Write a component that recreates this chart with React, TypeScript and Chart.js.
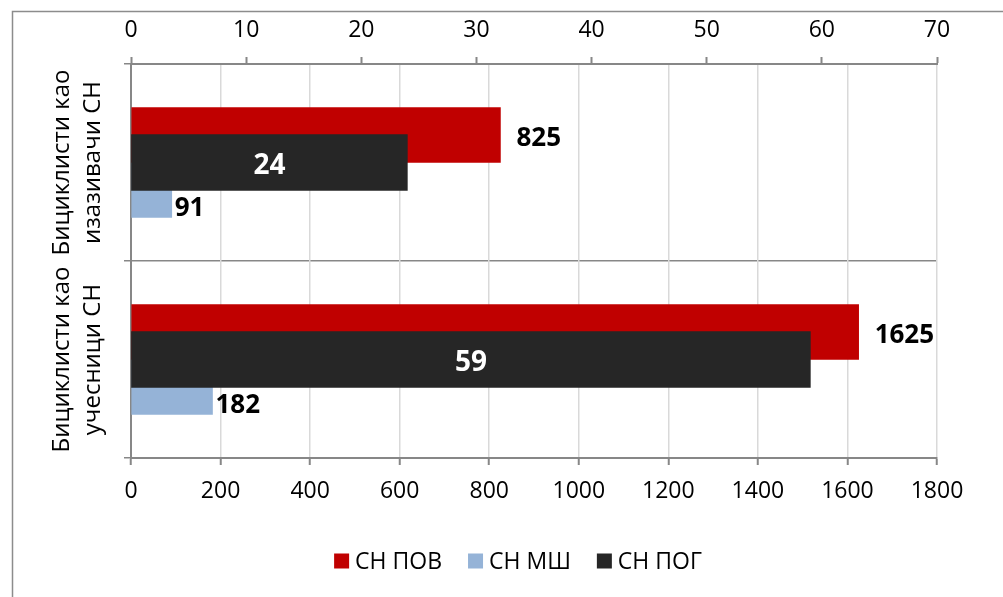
import React, { useEffect, useRef } from "react";
import { Chart, registerables } from "chart.js";

Chart.register(...registerables);

// ---- data ----
const categories: string[][] = [
  ["Бициклисти као", "изазивачи СН"],
  ["Бициклисти као", "учесници СН"],
];
const seriesNames = ["СН ПОВ", "СН МШ", "СН ПОГ"];
const seriesColors = ["#C00000", "#95B3D7", "#262626"];
const povValues = [825, 1625];
const mshValues = [91, 182];
const pogValues = [24, 59];
const bottomAxisRange = [0, 1800, 200];
const topAxisRange = [0, 70, 10];

const FONT = "'Open Sans', 'DejaVu Sans', sans-serif";
const AXIS_GRAY = "#878787";
const GRID_GRAY = "#d9d9d9";

const framePlugin = {
  id: "frame",
  beforeDraw(chart: any) {
    const ctx = chart.ctx;
    ctx.save();
    ctx.fillStyle = "#ffffff";
    ctx.fillRect(0, 0, chart.width, chart.height);
    ctx.strokeStyle = "#8c8c8c";
    ctx.lineWidth = 1.5;
    ctx.strokeRect(12.5, 11.5, chart.width + 40, chart.height + 40);
    ctx.restore();
  },
};

const categoryLabelPlugin = {
  id: "catLabels",
  afterDraw(chart: any) {
    const ctx = chart.ctx;
    const yScale = chart.scales.y;
    (chart.data.labels as string[][]).forEach((lines, i) => {
      const yc = yScale.getPixelForValue(i);
      lines.forEach((line, j) => {
        ctx.save();
        ctx.translate(69 + j * 31, yc);
        ctx.rotate(-Math.PI / 2);
        ctx.textAlign = "center";
        ctx.textBaseline = "alphabetic";
        ctx.font = `24px ${FONT}`;
        ctx.fillStyle = "#000";
        ctx.fillText(line, 0, 0);
        ctx.restore();
      });
    });
  },
};

const dataLabelPlugin = {
  id: "dataLabels",
  afterDatasetsDraw(chart: any) {
    const ctx = chart.ctx;
    chart.data.datasets.forEach((ds: any, di: number) => {
      const meta = chart.getDatasetMeta(di);
      meta.data.forEach((bar: any, i: number) => {
        const v = ds.data[i];
        const { x, y, base } = bar.getProps(["x", "y", "base"], true);
        ctx.save();
        ctx.textBaseline = "alphabetic";
        if (di === 2) {
          const size = 28;
          ctx.font = `bold ${size}px ${FONT}`;
          ctx.fillStyle = "#ffffff";
          ctx.textAlign = "center";
          ctx.fillText(String(v), (x + base) / 2, y + 2 + 0.357 * size);
        } else if (di === 0) {
          const size = 26;
          ctx.font = `bold ${size}px ${FONT}`;
          ctx.fillStyle = "#000";
          ctx.textAlign = "left";
          ctx.fillText(String(v), x + 16, y + 1.5 + 0.357 * size);
        } else {
          const size = 26;
          ctx.font = `bold ${size}px ${FONT}`;
          ctx.fillStyle = "#000";
          ctx.textAlign = "left";
          ctx.fillText(String(v), x + 3, y + 17 + 0.357 * size);
        }
        ctx.restore();
      });
    });
  },
};

const legendPlugin = {
  id: "customLegend",
  afterDraw(chart: any) {
    const ctx = chart.ctx;
    ctx.save();
    const size = 23;
    ctx.font = `${size}px ${FONT}`;
    const box = 15;
    const gapBoxText = 6;
    const gapItems = 26;
    const widths = seriesNames.map((n) => ctx.measureText(n).width);
    const total =
      widths.reduce((a, w) => a + box + gapBoxText + w, 0) + gapItems * (seriesNames.length - 1);
    let xPos = 518 - total / 2;
    const cy = 561;
    seriesNames.forEach((n, i) => {
      ctx.fillStyle = seriesColors[i];
      ctx.fillRect(xPos, cy - box / 2, box, box);
      xPos += box + gapBoxText;
      ctx.fillStyle = "#000";
      ctx.textAlign = "left";
      ctx.textBaseline = "alphabetic";
      ctx.fillText(n, xPos, cy + 0.357 * size);
      xPos += widths[i] + gapItems;
    });
    ctx.restore();
  },
};

export default function App() {
  const canvasRef = useRef<HTMLCanvasElement | null>(null);

  useEffect(() => {
    if (!canvasRef.current) return;
    const chart = new Chart(canvasRef.current, {
      type: "bar",
      data: {
        labels: categories as any,
        datasets: [
          {
            label: seriesNames[0],
            data: povValues,
            backgroundColor: seriesColors[0],
            xAxisID: "x",
            barThickness: 55,
            order: 1,
          },
          {
            label: seriesNames[1],
            data: mshValues,
            backgroundColor: seriesColors[1],
            xAxisID: "x",
            barThickness: 55,
            order: 1,
          },
          {
            label: seriesNames[2],
            data: pogValues,
            backgroundColor: seriesColors[2],
            xAxisID: "x2",
            grouped: false,
            barThickness: 56,
            order: 0,
          } as any,
        ],
      },
      options: {
        indexAxis: "y",
        animation: false,
        responsive: false,
        maintainAspectRatio: false,
        layout: { padding: { left: 0, right: 66, top: 0, bottom: 0 } },
        plugins: {
          legend: { display: false },
          tooltip: { enabled: false },
          title: { display: false },
        },
        scales: {
          y: {
            type: "category",
            position: "left",
            offset: true,
            grid: {
              offset: true,
              color: AXIS_GRAY,
              lineWidth: 1.5,
              tickLength: 7,
              drawOnChartArea: true,
              tickColor: AXIS_GRAY,
            },
            border: { color: AXIS_GRAY, width: 2 },
            ticks: { display: false },
            afterFit(scale: any) {
              scale.width = 131;
            },
          },
          x: {
            type: "linear",
            position: "bottom",
            min: bottomAxisRange[0],
            max: bottomAxisRange[1],
            ticks: {
              stepSize: bottomAxisRange[2],
              autoSkip: false,
              maxRotation: 0,
              minRotation: 0,
              padding: 13,
              color: "#000",
              font: { family: FONT, size: 23 },
              callback: (v: any) => String(v),
            },
            grid: {
              color: GRID_GRAY,
              lineWidth: 1.5,
              tickLength: 7,
              tickColor: AXIS_GRAY,
              tickWidth: 2,
            },
            border: { color: AXIS_GRAY, width: 2 },
            afterFit(scale: any) {
              scale.height = 139;
            },
          },
          x2: {
            type: "linear",
            position: "top",
            min: topAxisRange[0],
            max: topAxisRange[1],
            ticks: {
              stepSize: topAxisRange[2],
              autoSkip: false,
              maxRotation: 0,
              minRotation: 0,
              padding: 13,
              color: "#000",
              font: { family: FONT, size: 23 },
              callback: (v: any) => String(v),
            },
            grid: {
              drawOnChartArea: false,
              tickLength: 7,
              tickColor: AXIS_GRAY,
              tickWidth: 2,
            },
            border: { color: AXIS_GRAY, width: 2 },
            afterFit(scale: any) {
              scale.height = 64;
            },
          },
        },
      } as any,
      plugins: [framePlugin, categoryLabelPlugin, dataLabelPlugin, legendPlugin],
    });
    return () => chart.destroy();
  }, []);

  return (
    <div style={{ position: "absolute", left: 0, top: 0, width: 1003, height: 597 }}>
      <canvas ref={canvasRef} width={1003} height={597} style={{ display: "block" }} />
    </div>
  );
}
